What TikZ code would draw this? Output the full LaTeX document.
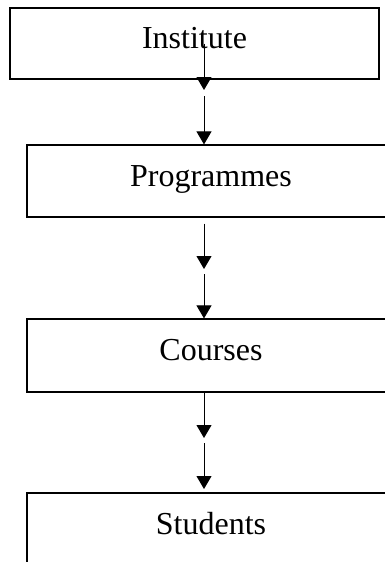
\documentclass[tikz,border=0pt]{standalone}
\usepackage{fontspec}
\setmainfont{Liberation Serif}
\usetikzlibrary{arrows.meta}

\begin{document}
\begin{tikzpicture}[x=1pt, y=-1pt,
  levelbox/.style={draw, line width=1.2pt, inner sep=0pt,
    minimum width=368pt, minimum height=72pt,
    text height=22pt, text depth=12pt,
    font=\fontsize{32}{37}\selectfont},
  flow/.style={line width=1pt, -{Triangle[length=13pt, width=15pt]}}]

  % page frame; the lower boxes run off the right and bottom edges
  \useasboundingbox (0,0) rectangle (385,562);
  \clip (0,0) rectangle (385,562);

  % hierarchy levels
  \node[levelbox, minimum width=369pt, minimum height=71pt] (inst) at (194.5,43.5) {Institute};
  \node[levelbox] (prog) at (211,181) {Programmes};
  \node[levelbox, minimum height=73pt] (cour) at (211,355.5) {Courses};
  \node[levelbox] (stud) at (211,529) {Students};

  % break points of the double arrows
  \coordinate (m1) at (204,90);
  \coordinate (n1) at (204,96);
  \coordinate (m2) at (204,269);
  \coordinate (n2) at (204,274);
  \coordinate (m3) at (204,438);
  \coordinate (n3) at (204,443);
  \coordinate (e3) at (204,489);

  % Institute -> Programmes
  \draw[flow] (inst.center -| m1) -- (m1);
  \draw[flow] (n1) -- (prog.north -| n1);

  % Programmes -> Courses
  \draw[flow, shorten <=6pt] (prog.south -| m2) -- (m2);
  \draw[flow] (n2) -- (cour.north -| n2);

  % Courses -> Students
  \draw[flow] (cour.south -| m3) -- (m3);
  \draw[flow] (n3) -- (e3);
\end{tikzpicture}
\end{document}
